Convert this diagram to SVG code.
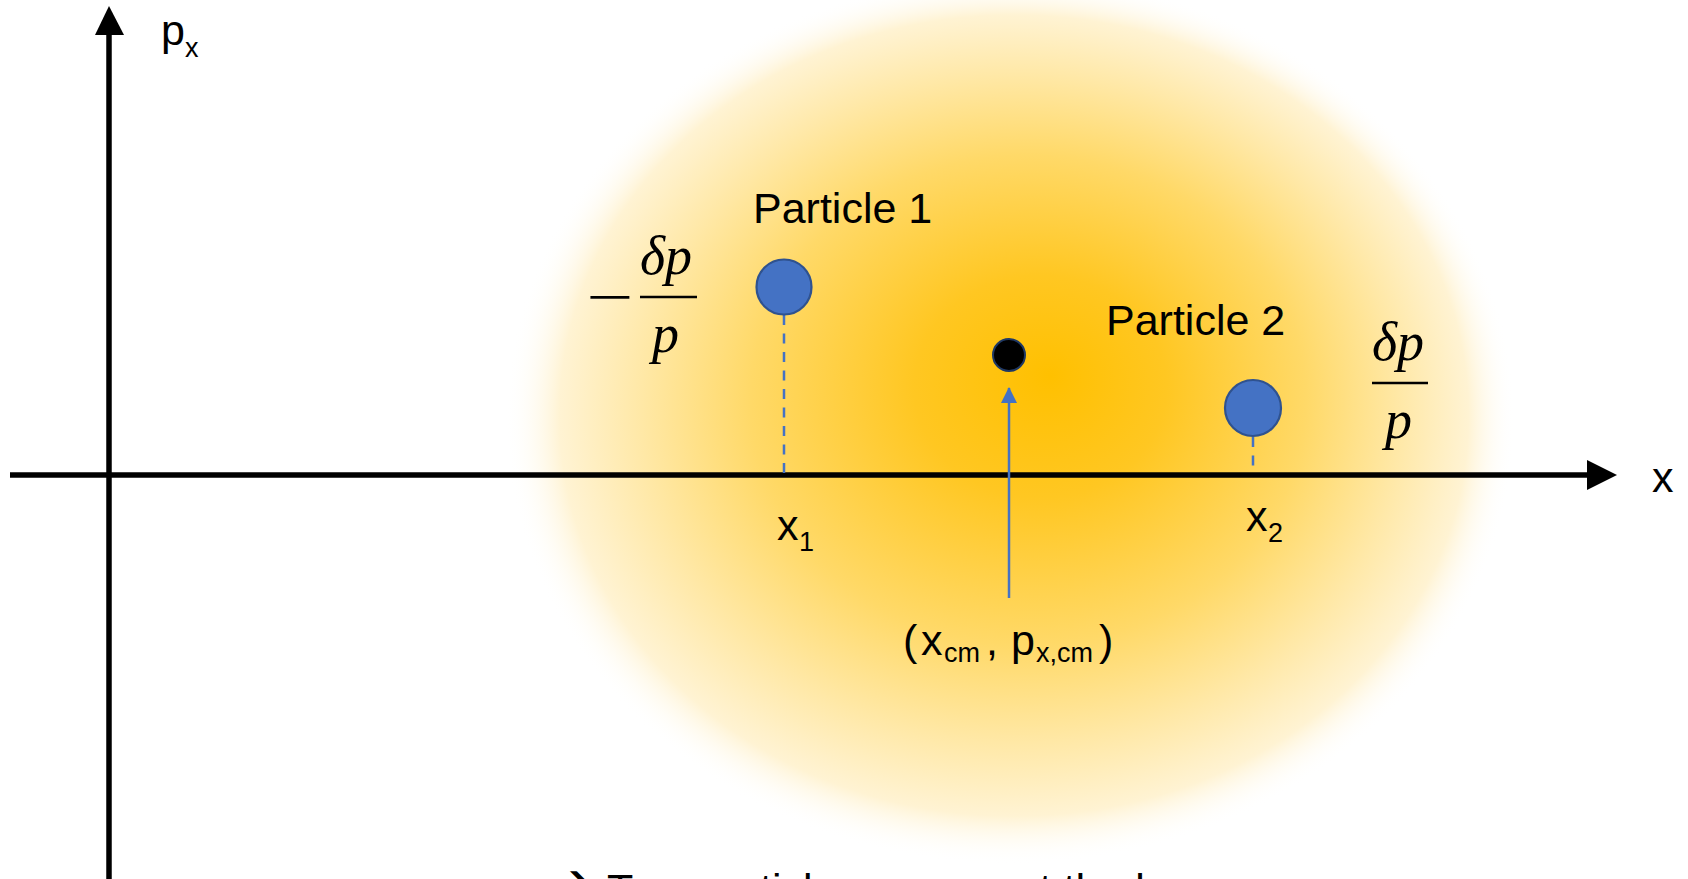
<svg xmlns="http://www.w3.org/2000/svg" width="1688" height="879" viewBox="0 0 1688 879">
  <defs>
    <radialGradient id="glow" cx="0.5" cy="0.5" r="0.5" fx="0.54" fy="0.45">
      <stop offset="0" stop-color="#FFC000"/>
      <stop offset="0.25" stop-color="#FFC722"/>
      <stop offset="0.55" stop-color="#FFD968"/>
      <stop offset="0.75" stop-color="#FFE8A6"/>
      <stop offset="0.9" stop-color="#FFF3D3"/>
      <stop offset="1" stop-color="#FFFFFF" stop-opacity="0"/>
    </radialGradient>
    <marker id="blueHead" viewBox="0 0 16 16" refX="15" refY="8" markerWidth="16" markerHeight="16" markerUnits="userSpaceOnUse" orient="auto">
      <path d="M0,0 L16,8 L0,16 Z" fill="#4472C4"/>
    </marker>
    <style>
      .lbl { font-family: "Liberation Sans", Arial, sans-serif; font-size: 43px; fill: #000; }
      .sub { font-size: 27px; }
      .math { font-family: "Liberation Serif", "Times New Roman", serif; font-style: italic; font-size: 54px; fill: #000; }
      .axis { stroke: #000; stroke-width: 5.5; fill: none; }
      .dash { stroke: #4472C4; stroke-width: 2.5; stroke-dasharray: 10 8.5; fill: none; }
      .particle { fill: #4472C4; stroke: #2F528F; stroke-width: 2.2; }
    </style>
  </defs>

  <rect width="1688" height="879" fill="#FFFFFF"/>
  <ellipse id="distribution" cx="1010" cy="420" rx="505" ry="445" fill="url(#glow)"/>

  <g id="connectors">
    <line class="axis" x1="109" y1="879" x2="109" y2="33"/>
    <polygon points="109,6 95,35 124,35" fill="#000"/>
    <line class="axis" x1="10" y1="475" x2="1589" y2="475"/>
    <polygon points="1617,475 1587,460 1587,490" fill="#000"/>
    <line class="dash" x1="784" y1="315" x2="784" y2="473"/>
    <line class="dash" x1="1253" y1="437" x2="1253" y2="473"/>
    <line x1="1009" y1="598" x2="1009" y2="388" stroke="#4472C4" stroke-width="2.5" marker-end="url(#blueHead)"/>
  </g>

  <g id="particle1">
    <circle class="particle" cx="784" cy="287" r="27.5"/>
    <text class="lbl" x="753" y="223">Particle 1</text>
  </g>

  <g id="particle2">
    <circle class="particle" cx="1253" cy="408" r="28"/>
    <text class="lbl" x="1106" y="335">Particle 2</text>
  </g>

  <g id="center">
    <circle cx="1009" cy="355" r="16" fill="#000" stroke="#1F3864" stroke-width="2"/>
    <text class="lbl" x="903" y="655">(<tspan x="921">x</tspan><tspan class="sub" x="944" y="662" font-size="28">cm</tspan><tspan x="986" y="655">,</tspan><tspan x="1011">p</tspan><tspan class="sub" x="1036" y="662" font-size="28">x,cm</tspan><tspan x="1099" y="655">)</tspan></text>
  </g>

  <g id="axis-labels">
    <text class="lbl" x="161" y="45">p<tspan class="sub" y="57" font-size="29">x</tspan></text>
    <text class="lbl" x="1652" y="492">x</text>
    <text class="lbl" x="777" y="540">x<tspan class="sub" x="799" y="551">1</tspan></text>
    <text class="lbl" x="1246" y="531">x<tspan class="sub" x="1268" y="542">2</tspan></text>
  </g>

  <g id="frac-left">
    <text class="math" font-style="normal" transform="translate(581,315) scale(1.55,1)" x="0" y="0">−</text>
    <text class="math" x="640" y="274">δp</text>
    <line x1="640" y1="297" x2="697" y2="297" stroke="#000" stroke-width="2.5"/>
    <text class="math" x="652" y="352">p</text>
  </g>

  <g id="frac-right">
    <text class="math" x="1372" y="360">δp</text>
    <line x1="1372" y1="383" x2="1428" y2="383" stroke="#000" stroke-width="2.5"/>
    <text class="math" x="1385" y="438">p</text>
  </g>

  <g id="caption">
    <text class="lbl" x="553" y="895" font-family="'DejaVu Sans', sans-serif" font-size="46">➔</text>
    <text class="lbl" x="607" y="904" font-size="44">Two particles represent the beam</text>
  </g>
</svg>
